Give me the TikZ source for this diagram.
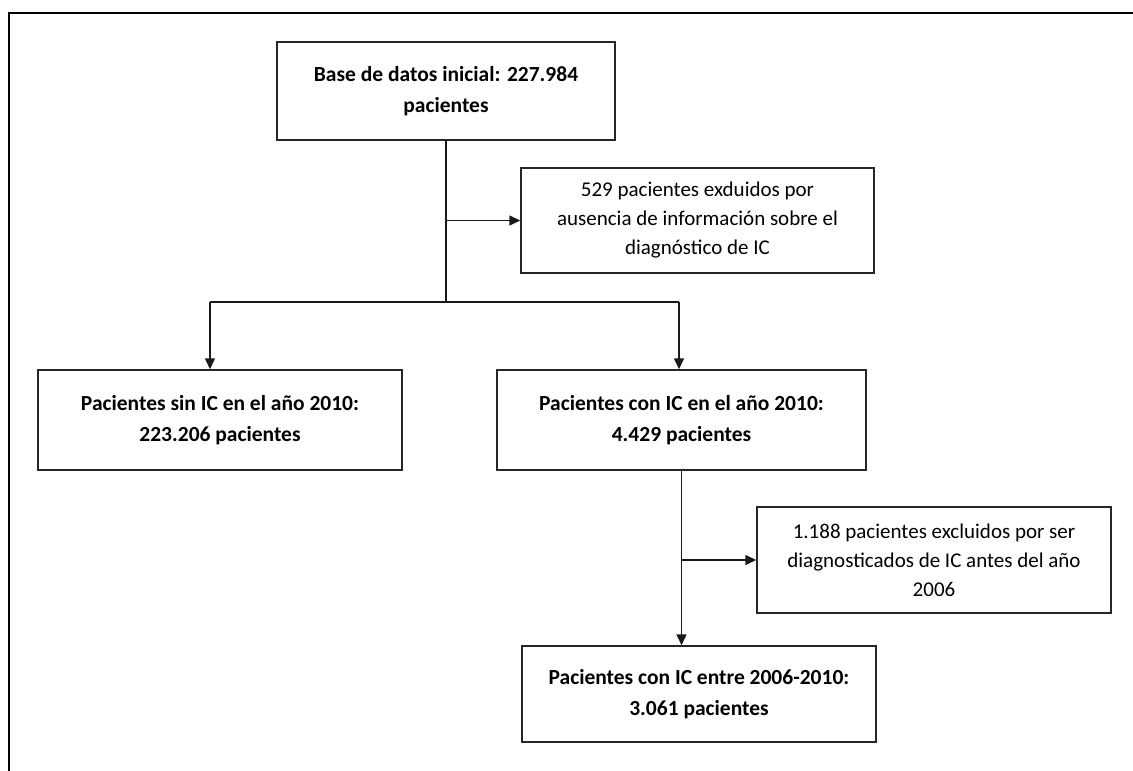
\documentclass[tikz,border=0pt]{standalone}
\usepackage{fontspec}
\setmainfont{Carlito}
\usetikzlibrary{arrows.meta}
\begin{document}
\begin{tikzpicture}[x=1pt,y=-1pt,
  box/.style={draw=black!85,line width=1.5pt,align=center,inner sep=0pt,text=black},
  boldbox/.style={box,font=\bfseries\fontsize{21.5}{30.5}\selectfont},
  plainbox/.style={box,font=\fontsize{21}{29}\selectfont},
  link/.style={draw=black!90,line width=1.5pt},
  arr/.style={link,-{Triangle[length=11pt,width=10pt]}},
  frameline/.style={draw=black,line width=2pt}]
\useasboundingbox (0,0) rectangle (1133,771);
\draw[frameline] (8.5,771) -- (8.5,13) -- (1133,13);
\node[boldbox,minimum width=338pt,minimum height=98pt] (top) at (446,91) {Base de datos inicial: 227.984\\pacientes};
\node[plainbox,minimum width=353pt,minimum height=105pt] (r1) at (697.5,220.5) {529 pacientes exduidos por\\ausencia de información sobre el\\diagnóstico de IC};
\node[boldbox,minimum width=364pt,minimum height=100pt] (left) at (220,420) {Pacientes sin IC en el año 2010:\\223.206 pacientes};
\node[boldbox,minimum width=369pt,minimum height=100pt] (mid) at (681.5,420) {Pacientes con IC en el año 2010:\\4.429 pacientes};
\node[plainbox,minimum width=354pt,minimum height=106pt] (r2) at (934,560) {1.188 pacientes excluidos por ser\\diagnosticados de IC antes del año\\2006};
\node[boldbox,minimum width=354pt,minimum height=96pt] (bot) at (699,694) {Pacientes con IC entre 2006-2010:\\3.061 pacientes};
\coordinate (split) at (446,302);
\coordinate (lt) at (210,302);
\coordinate (rt) at (679,302);
\draw[link] (top.south) -- (split);
\draw[arr] (top.south |- r1.west) -- (r1.west);
\draw[link] (lt) -- (rt);
\draw[arr] (lt) -- (lt |- left.north);
\draw[arr] (rt) -- (rt |- mid.north);
\draw[arr] (mid.south) -- (mid.south |- bot.north);
\draw[arr] (mid.south |- r2.west) -- (r2.west);
\end{tikzpicture}
\end{document}
